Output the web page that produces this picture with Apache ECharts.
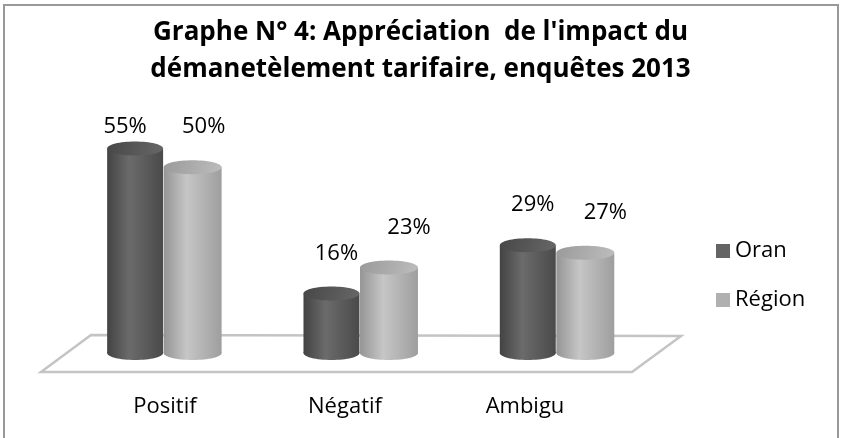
<!DOCTYPE html>
<html>
<head>
<meta charset="utf-8">
<script src="https://cdn.jsdelivr.net/npm/echarts@6/dist/echarts.min.js"></script>
<style>
  html, body { margin: 0; padding: 0; background: #fff; }
  #chart { width: 841px; height: 438px; }
</style>
</head>
<body>
<div id="chart"></div>
<script>
// données
var categories = ['Positif', 'Négatif', 'Ambigu'];
var oranValues = [55, 16, 29];
var regionValues = [50, 23, 27];
var seriesNames = ['Oran', 'Région'];

var font = 'Open Sans';

// cylindre 3D : corps + ellipse du haut + ellipse du bas
function cylinder(offset, widthRatio, colors, labelDx, clampDx) {
    return function (params, api) {
        var bw = api.size([1, 0])[0];
        var top = api.coord([api.value(0), api.value(1)]);
        var base = api.coord([api.value(0), 0]);
        var cx = top[0] + offset * bw;
        var w = widthRatio * bw;
        var ry = 7;
        var body = new echarts.graphic.LinearGradient(0, 0, 1, 0, [
            { offset: 0, color: colors[0] },
            { offset: 0.4, color: colors[1] },
            { offset: 1, color: colors[2] }
        ]);
        var cap = new echarts.graphic.LinearGradient(0, 0, 1, 1, [
            { offset: 0, color: colors[3] },
            { offset: 1, color: colors[4] }
        ]);
        // étiquette au-dessus, ramenée sous le titre si trop haute
        var labelY = top[1] - 40;
        var dx = labelDx;
        if (labelY < 130) {
            labelY = 127;
            dx = clampDx;
        }
        return {
            type: 'group',
            children: [
                { type: 'ellipse', shape: { cx: cx, cy: base[1], rx: w / 2, ry: ry }, style: { fill: body } },
                { type: 'rect', shape: { x: cx - w / 2, y: top[1], width: w, height: base[1] - top[1] }, style: { fill: body } },
                { type: 'ellipse', shape: { cx: cx, cy: top[1], rx: w / 2, ry: ry }, style: { fill: cap } },
                {
                    type: 'text',
                    style: {
                        x: cx + dx, y: labelY,
                        text: api.value(1) + '%',
                        fill: '#000', font: '22px "' + font + '"',
                        align: 'center', verticalAlign: 'middle'
                    }
                }
            ]
        };
    };
}

var chart = echarts.init(document.getElementById('chart'));
chart.setOption({
    backgroundColor: '#fff',
    animation: false,
    title: {
        text: "Graphe N° 4: Appréciation  de l'impact du\ndémanetèlement tarifaire, enquêtes 2013",
        left: 'center',
        top: 9,
        textStyle: { fontFamily: font, fontSize: 26, fontWeight: 'bold', color: '#000', lineHeight: 37 }
    },
    legend: {
        orient: 'vertical',
        left: 711,
        top: 235,
        icon: 'rect',
        itemWidth: 14,
        itemHeight: 14,
        itemGap: 27,
        textStyle: { fontFamily: font, fontSize: 22, color: '#000' },
        data: seriesNames
    },
    graphic: [
        { type: 'rect', z: -10, shape: { x: 4, y: 5, width: 834, height: 440 }, style: { fill: '#fff', stroke: '#999', lineWidth: 2 } },
        { type: 'polygon', z: -5, shape: { points: [[91, 335], [681, 336], [632, 372], [41, 372]] }, style: { fill: '#fff', stroke: '#c4c4c4', lineWidth: 2.5 } }
    ],
    grid: [
        { left: 67, width: 589, top: 130, height: 223 },
        { left: 75, width: 540, top: 390, height: 1 }
    ],
    xAxis: [
        { type: 'category', gridIndex: 0, data: categories, axisLine: { show: false }, axisTick: { show: false }, axisLabel: { show: false } },
        { type: 'category', gridIndex: 1, data: categories, axisLine: { show: false }, axisTick: { show: false },
          axisLabel: { margin: 5, fontFamily: font, fontSize: 22, color: '#000' } }
    ],
    yAxis: [
        { type: 'value', gridIndex: 0, min: 0, max: 60, show: false },
        { type: 'value', gridIndex: 1, show: false }
    ],
    series: [
        {
            name: 'Oran', type: 'custom', z: 2,
            itemStyle: { color: '#646464' },
            renderItem: cylinder(-0.153, 0.285, ['#434343', '#6b6b6b', '#4a4a4a', '#474747', '#676767'], 5, -10),
            data: categories.map(function (c, i) { return [i, oranValues[i]]; })
        },
        {
            name: 'Région', type: 'custom', z: 3,
            itemStyle: { color: '#b0b0b0' },
            renderItem: cylinder(0.14, 0.295, ['#959595', '#c6c6c6', '#9e9e9e', '#9a9a9a', '#bdbdbd'], 20, 11),
            data: categories.map(function (c, i) { return [i, regionValues[i]]; })
        }
    ]
});
</script>
</body>
</html>
